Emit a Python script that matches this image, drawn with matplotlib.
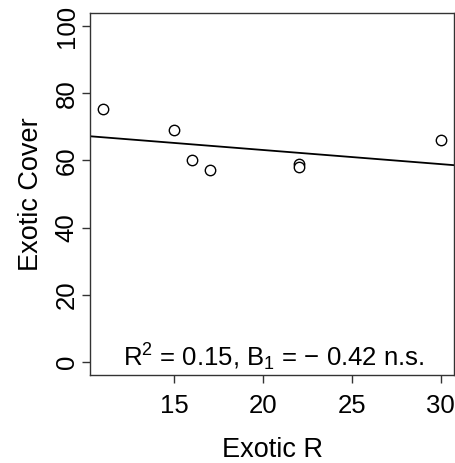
import matplotlib
matplotlib.use("Agg")
import matplotlib.pyplot as plt
import numpy as np

# values
exotic_r = [11, 15, 16, 17, 22, 22, 30]
exotic_cover = [75.5, 69.0, 60.0, 57.3, 59.0, 58.0, 66.0]
x_ticks = [15, 20, 25, 30]
y_ticks = [0, 20, 40, 60, 80, 100]
label_text = r"$\mathregular{R^2}$ = 0.15, $\mathregular{B_1}$ = " + "\u2212 0.42 n.s."

plt.rcParams['font.family'] = ['Liberation Sans', 'DejaVu Sans']
plt.rcParams['mathtext.fontset'] = 'custom'
plt.rcParams['mathtext.rm'] = 'Liberation Sans'
plt.rcParams['mathtext.it'] = 'Liberation Sans'

fig = plt.figure(figsize=(4.56, 4.63), dpi=100)
ax = fig.add_axes([0.197, 0.190, 0.799, 0.782])

ax.plot(exotic_r, exotic_cover, 'o', mfc='white', mec='black', ms=7.5, mew=1.0)

# regression line across the whole panel
b1, b0 = np.polyfit(exotic_r, exotic_cover, 1)
ax.axline((0, b0), slope=b1, color='black', lw=1.3)

xr = max(exotic_r) - min(exotic_r)
ax.set_xlim(min(exotic_r) - 0.04 * xr, max(exotic_r) + 0.04 * xr)
ax.set_ylim(-4, 104)
ax.set_xticks(x_ticks)
ax.set_yticks(y_ticks)
ax.set_yticklabels([str(v) for v in y_ticks], rotation=90, va='center')
ax.tick_params(direction='out', length=6, width=1, labelsize=18.5, color='#333333')
ax.tick_params(axis='x', pad=8)
ax.tick_params(axis='y', pad=2)
for s in ax.spines.values():
    s.set_linewidth(1.0)
    s.set_color('#333333')

ax.set_xlabel("Exotic R", fontsize=19.5, labelpad=13)
ax.set_ylabel("Exotic Cover", fontsize=19.5, labelpad=8)

ax.text(0.505, 0.025, label_text, transform=ax.transAxes, ha='center',
        va='baseline', fontsize=18.5)

fig.savefig("out.png", dpi=100)
